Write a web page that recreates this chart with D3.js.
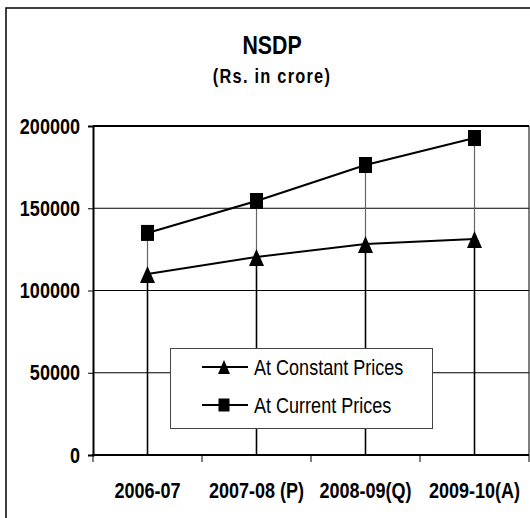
<!DOCTYPE html>
<html>
<head>
<meta charset="utf-8">
<script src="https://cdn.jsdelivr.net/npm/d3@7"></script>
<style>
  body { margin: 0; background: #fff; }
  svg { display: block; }
  text { font-family: "Liberation Sans", Arial, sans-serif; fill: #000; }
</style>
</head>
<body>
<div id="chart"></div>
<script>
// NSDP, Rs. in crore
var years = ["2006-07", "2007-08 (P)", "2008-09(Q)", "2009-10(A)"];
var constantPrices = [110000, 120400, 128300, 131300];
var currentPrices = [135000, 154400, 176300, 192700];
var yTicks = [0, 50000, 100000, 150000, 200000];

var width = 530;
var height = 518;
var squeeze = 0.82; // the original uses a narrow face

var svg = d3.select("#chart").append("svg")
  .attr("width", width)
  .attr("height", height);

// squeeze text horizontally around its own x position
function narrow(sel) {
  sel.each(function () {
    var t = d3.select(this);
    var x0 = +t.attr("x") || 0;
    t.attr("transform", "translate(" + x0 + ",0) scale(" + squeeze + ",1) translate(" + (-x0) + ",0)");
  });
}

// outer frame (runs off the right and bottom edges)
svg.append("rect")
  .attr("x", 6).attr("y", 8)
  .attr("width", 560).attr("height", 560)
  .attr("fill", "none")
  .attr("stroke", "#000")
  .attr("stroke-width", 1.5);

var x = d3.scaleBand().domain(years).range([93, 529]).padding(0);
var y = d3.scaleLinear().domain([0, 200000]).range([455, 126]);

// title
svg.append("text")
  .attr("x", 272).attr("y", 54)
  .attr("text-anchor", "middle")
  .style("font-size", "26px")
  .style("font-weight", "bold")
  .text("NSDP")
  .call(narrow);

svg.append("text")
  .attr("x", 272).attr("y", 83)
  .attr("text-anchor", "middle")
  .style("font-size", "20px")
  .style("font-weight", "bold")
  .style("letter-spacing", "1.5px")
  .text("(Rs. in crore)")
  .call(narrow);

// horizontal gridlines
svg.append("g")
  .selectAll("line")
  .data(yTicks.filter(d => d > 0 && d < 200000))
  .join("line")
  .attr("x1", 93).attr("x2", 529)
  .attr("y1", d => y(d)).attr("y2", d => y(d))
  .attr("stroke", "#000")
  .attr("stroke-width", 1);

// top and right edges of the plot area
svg.append("line")
  .attr("x1", 93).attr("x2", 529)
  .attr("y1", y(200000)).attr("y2", y(200000))
  .attr("stroke", "#000").attr("stroke-width", 2);
svg.append("line")
  .attr("x1", 529).attr("x2", 529)
  .attr("y1", y(200000)).attr("y2", y(0))
  .attr("stroke", "#000").attr("stroke-width", 1);

// drop lines
svg.append("g")
  .selectAll("line")
  .data(currentPrices)
  .join("line")
  .attr("x1", (d, i) => x(years[i]) + x.bandwidth() / 2)
  .attr("x2", (d, i) => x(years[i]) + x.bandwidth() / 2)
  .attr("y1", d => y(d)).attr("y2", y(0))
  .attr("stroke", "#666").attr("stroke-width", 1.2);

svg.append("g")
  .selectAll("line")
  .data(constantPrices)
  .join("line")
  .attr("x1", (d, i) => x(years[i]) + x.bandwidth() / 2)
  .attr("x2", (d, i) => x(years[i]) + x.bandwidth() / 2)
  .attr("y1", d => y(d)).attr("y2", y(0))
  .attr("stroke", "#000").attr("stroke-width", 1.5);

// y axis
var yAxis = svg.append("g")
  .attr("transform", "translate(93,0)")
  .call(d3.axisLeft(y).tickValues(yTicks).tickSize(5).tickPadding(8).tickFormat(d3.format("d")));
yAxis.attr("font-family", null);
yAxis.select(".domain").attr("stroke", "#000").attr("stroke-width", 2);
yAxis.selectAll(".tick line").attr("stroke", "#000");
yAxis.selectAll("text")
  .style("font-size", "22px")
  .style("font-weight", "bold")
  .call(narrow);

// x axis
var xAxis = svg.append("g")
  .attr("transform", "translate(0," + y(0) + ")")
  .call(d3.axisBottom(x).tickSize(0).tickPadding(27));
xAxis.attr("font-family", null);
xAxis.select(".domain").remove();
xAxis.selectAll("text")
  .style("font-size", "22px")
  .style("font-weight", "bold")
  .call(narrow);

svg.append("line")
  .attr("x1", 92).attr("x2", 529)
  .attr("y1", y(0)).attr("y2", y(0))
  .attr("stroke", "#000").attr("stroke-width", 2);

svg.append("g")
  .selectAll("line")
  .data(d3.range(years.length + 1))
  .join("line")
  .attr("x1", i => 93 + i * x.step())
  .attr("x2", i => 93 + i * x.step())
  .attr("y1", y(0)).attr("y2", y(0) + 7)
  .attr("stroke", "#000").attr("stroke-width", 1);

// series lines
var line = d3.line()
  .x((d, i) => x(years[i]) + x.bandwidth() / 2)
  .y(d => y(d));

svg.append("path")
  .datum(constantPrices)
  .attr("d", line)
  .attr("fill", "none")
  .attr("stroke", "#000")
  .attr("stroke-width", 2);

svg.append("path")
  .datum(currentPrices)
  .attr("d", line)
  .attr("fill", "none")
  .attr("stroke", "#000")
  .attr("stroke-width", 2);

var tri = "M0,-8L7.5,9L-7.5,9Z";

svg.append("g")
  .selectAll("path")
  .data(constantPrices)
  .join("path")
  .attr("d", tri)
  .attr("transform", (d, i) => "translate(" + (x(years[i]) + x.bandwidth() / 2) + "," + y(d) + ")")
  .attr("fill", "#000");

svg.append("g")
  .selectAll("rect")
  .data(currentPrices)
  .join("rect")
  .attr("x", (d, i) => x(years[i]) + x.bandwidth() / 2 - 6.5)
  .attr("y", d => y(d) - 8)
  .attr("width", 13).attr("height", 16)
  .attr("fill", "#000");

// legend
var legend = svg.append("g");
legend.append("rect")
  .attr("x", 170.5).attr("y", 348.5)
  .attr("width", 262).attr("height", 80)
  .attr("fill", "#fff")
  .attr("stroke", "#444")
  .attr("stroke-width", 1);

var legendItems = [
  { name: "At Constant Prices", marker: "triangle", cy: 367 },
  { name: "At Current Prices", marker: "square", cy: 405 }
];

legendItems.forEach(function (item) {
  legend.append("line")
    .attr("x1", 202).attr("x2", 248)
    .attr("y1", item.cy).attr("y2", item.cy)
    .attr("stroke", "#000").attr("stroke-width", 2);
  if (item.marker === "triangle") {
    legend.append("path")
      .attr("d", "M0,-7L6,7L-6,7Z")
      .attr("transform", "translate(224," + item.cy + ")")
      .attr("fill", "#000");
  } else {
    legend.append("rect")
      .attr("x", 218.5).attr("y", item.cy - 6.5)
      .attr("width", 11).attr("height", 13)
      .attr("fill", "#000");
  }
  legend.append("text")
    .attr("x", 254).attr("y", item.cy)
    .attr("dy", "0.36em")
    .style("font-size", "22px")
    .text(item.name)
    .call(narrow);
});
</script>
</body>
</html>
